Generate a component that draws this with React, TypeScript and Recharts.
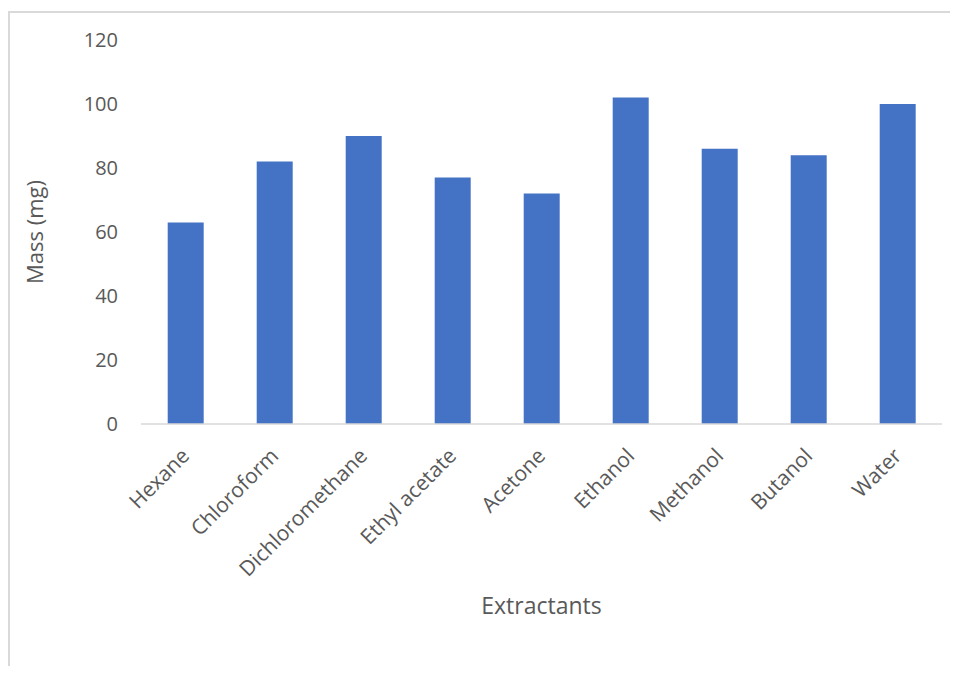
import React from "react"
import { BarChart, Bar, XAxis, YAxis, Label } from "recharts"

const extractants = [
  "Hexane",
  "Chloroform",
  "Dichloromethane",
  "Ethyl acetate",
  "Acetone",
  "Ethanol",
  "Methanol",
  "Butanol",
  "Water",
]
const massMg = [63, 82, 90, 77, 72, 102, 86, 84, 100]
const yTicks = [0, 20, 40, 60, 80, 100, 120]

const FONT = "'Open Sans', 'Liberation Sans', sans-serif"
const TEXT = "#595959"

// rotated category labels, anchored at their end like Excel does
function SlantTick({ x, y, payload }: any) {
  return (
    <g transform={`translate(${x},${y + 20})`}>
      <text
        x={0}
        y={0}
        dy="0.35em"
        textAnchor="end"
        transform="rotate(-45)"
        fill={TEXT}
        fontSize={21}
        fontFamily={FONT}
      >
        {payload.value}
      </text>
    </g>
  )
}

export default function App() {
  const data = extractants.map((name, i) => ({ name, mass: massMg[i] }))

  return (
    <div
      style={{
        marginTop: 3,
        width: 950,
        height: 655,
        boxSizing: "border-box",
        borderTop: "2px solid #d9d9d9",
        borderLeft: "2px solid #d9d9d9",
      }}
    >
      <BarChart
        width={948}
        height={650}
        data={data}
        margin={{ top: 27, right: 16, left: 0, bottom: 0 }}
        barCategoryGap="30%"
      >
        <XAxis
          dataKey="name"
          interval={0}
          height={239}
          tickLine={false}
          axisLine={{ stroke: "#d9d9d9", strokeWidth: 1.5 }}
          tick={<SlantTick />}
        >
          <Label
            value="Extractants"
            position="insideBottom"
            offset={49}
            fill={TEXT}
            fontSize={23}
            fontFamily={FONT}
          />
        </XAxis>
        <YAxis
          width={131}
          domain={[0, 120]}
          ticks={yTicks}
          axisLine={false}
          tickLine={false}
          tickSize={0}
          tickMargin={23}
          tick={{ fill: TEXT, fontSize: 20, fontFamily: FONT }}
        >
          <Label
            content={({ viewBox }: any) => {
              const cx = 25
              const cy = viewBox.y + viewBox.height / 2
              return (
                <text
                  x={cx}
                  y={cy}
                  dy="0.35em"
                  textAnchor="middle"
                  transform={`rotate(-90, ${cx}, ${cy})`}
                  fill={TEXT}
                  fontSize={22}
                  fontFamily={FONT}
                >
                  Mass (mg)
                </text>
              )
            }}
          />
        </YAxis>
        <Bar dataKey="mass" fill="#4472C4" isAnimationActive={false} />
      </BarChart>
    </div>
  )
}
